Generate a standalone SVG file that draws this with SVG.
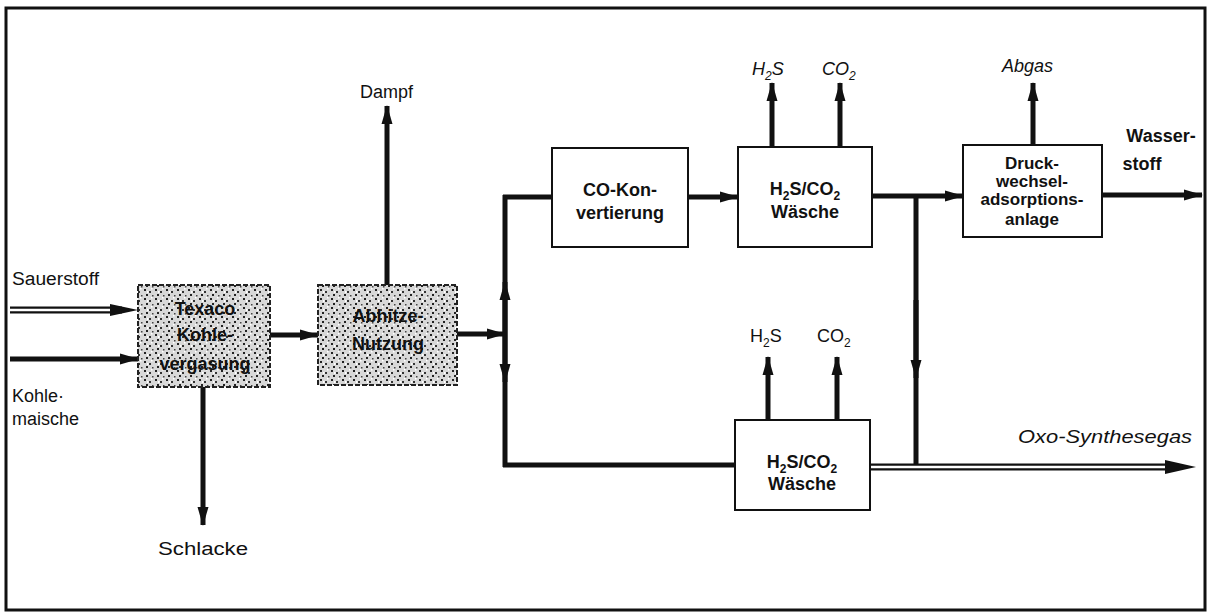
<svg xmlns="http://www.w3.org/2000/svg" width="1231" height="614" viewBox="0 0 1231 614">
<style>
.t{font-family:"Liberation Sans",Arial,sans-serif;font-size:18px;fill:#111}
.b{font-family:"Liberation Sans",Arial,sans-serif;font-size:18px;font-weight:bold;fill:#111;text-anchor:middle}
.s{font-size:17px}
.i{font-style:italic}
.box{fill:#fff;stroke:#111;stroke-width:2}
.gbox{fill:url(#stip);stroke:#222;stroke-width:2;stroke-dasharray:5 2}
.ln{fill:none;stroke:#111;stroke-width:5}
.dl{fill:none;stroke:#111;stroke-width:7}
.dw{fill:none;stroke:#fff;stroke-width:2.5}
</style>
<defs>
<pattern id="stip" width="11" height="9" patternUnits="userSpaceOnUse">
<rect width="11" height="9" fill="#d8d8d8"/>
<rect x="1" y="1" width="2" height="2" fill="#222"/>
<rect x="6" y="3" width="2" height="2" fill="#333"/>
<rect x="3" y="6" width="2" height="2" fill="#222"/>
<rect x="9" y="7" width="1.5" height="1.5" fill="#444"/>
<rect x="8" y="0" width="1.5" height="1.5" fill="#fff"/>
<rect x="4" y="3" width="1.5" height="2" fill="#fff"/>
</pattern>
<marker id="ah" markerUnits="userSpaceOnUse" markerWidth="20" markerHeight="12" refX="18" refY="6" orient="auto">
<path d="M0,0.5 L19,6 L0,11.5 z" fill="#111"/>
</marker>
</defs>

<rect x="6" y="8" width="1199" height="602" fill="#fff" stroke="#111" stroke-width="3"/>

<g id="connectors">
<line class="dl" x1="10" y1="310" x2="122" y2="310"/>
<line class="dw" x1="10" y1="310" x2="112" y2="310"/>
<path d="M110,304 L138,310 L110,316 z" fill="#111"/>
<line class="ln" x1="10" y1="359" x2="138" y2="359" marker-end="url(#ah)"/>
<line class="ln" x1="203" y1="387" x2="203" y2="525" marker-end="url(#ah)"/>
<line class="ln" x1="270" y1="335" x2="318" y2="335" marker-end="url(#ah)"/>
<line class="ln" x1="387" y1="285" x2="387" y2="106" marker-end="url(#ah)"/>
<line class="ln" x1="457" y1="334" x2="505" y2="334" marker-end="url(#ah)"/>
<path class="ln" d="M505,195 L505,467"/>
<line class="ln" x1="505" y1="334" x2="505" y2="282" marker-end="url(#ah)"/>
<line class="ln" x1="505" y1="334" x2="505" y2="382" marker-end="url(#ah)"/>
<path class="ln" d="M503,197 L552,197"/>
<path class="ln" d="M503,465 L735,465"/>
<line class="ln" x1="688" y1="197" x2="738" y2="197" marker-end="url(#ah)"/>
<line class="ln" x1="772" y1="147" x2="772" y2="83" marker-end="url(#ah)"/>
<line class="ln" x1="840" y1="147" x2="840" y2="83" marker-end="url(#ah)"/>
<line class="ln" x1="872" y1="196" x2="963" y2="196" marker-end="url(#ah)"/>
<path class="ln" d="M916,196 L916,468"/>
<line class="ln" x1="916" y1="300" x2="916" y2="378" marker-end="url(#ah)"/>
<line class="ln" x1="1033" y1="145" x2="1033" y2="83" marker-end="url(#ah)"/>
<line class="ln" x1="1102" y1="195" x2="1202" y2="195" marker-end="url(#ah)"/>
<line class="ln" x1="768" y1="420" x2="768" y2="357" marker-end="url(#ah)"/>
<line class="ln" x1="837" y1="420" x2="837" y2="357" marker-end="url(#ah)"/>
<line class="dl" x1="870" y1="467" x2="1175" y2="467"/>
<line class="dw" x1="870" y1="467" x2="1168" y2="467"/>
<path d="M1165,460 L1196,467 L1165,474 z" fill="#111"/>
</g>

<g id="texaco">
<rect class="gbox" x="138" y="285" width="132" height="102"/>
<text class="b" x="205" y="315">Texaco</text>
<text class="b" x="205" y="341">Kohle-</text>
<text class="b" x="205" y="370">vergasung</text>
</g>

<g id="abhitze">
<rect class="gbox" x="318" y="285" width="139" height="100"/>
<text class="b" x="388" y="322">Abhitze-</text>
<text class="b" x="388" y="350">Nutzung</text>
</g>

<g id="co-konvertierung">
<rect class="box" x="552" y="148" width="136" height="99"/>
<text class="b" x="620" y="196">CO-Kon-</text>
<text class="b" x="620" y="219">vertierung</text>
</g>

<g id="waesche-oben">
<rect class="box" x="738" y="147" width="134" height="100"/>
<text class="b" x="805" y="195">H<tspan font-size="12" dy="5">2</tspan><tspan dy="-5">S/CO</tspan><tspan font-size="12" dy="5">2</tspan></text>
<text class="b" x="805" y="218">Wäsche</text>
</g>

<g id="druckwechsel">
<rect class="box" x="963" y="145" width="139" height="92"/>
<text class="b s" x="1032" y="169">Druck-</text>
<text class="b s" x="1032" y="187">wechsel-</text>
<text class="b s" x="1032" y="205">adsorptions-</text>
<text class="b s" x="1032" y="225">anlage</text>
</g>

<g id="waesche-unten">
<rect class="box" x="735" y="420" width="135" height="90"/>
<text class="b" x="802" y="468">H<tspan font-size="12" dy="5">2</tspan><tspan dy="-5">S/CO</tspan><tspan font-size="12" dy="5">2</tspan></text>
<text class="b" x="802" y="490">Wäsche</text>
</g>

<g id="labels">
<text class="t" x="12" y="285" textLength="87" lengthAdjust="spacingAndGlyphs">Sauerstoff</text>
<text class="t" x="12" y="402">Kohle·</text>
<text class="t" x="12" y="425">maische</text>
<text class="t" x="158" y="555" textLength="90" lengthAdjust="spacingAndGlyphs">Schlacke</text>
<text class="t" x="360" y="98">Dampf</text>
<text class="t i" x="752" y="75">H<tspan font-size="12" dy="5">2</tspan><tspan dy="-5">S</tspan></text>
<text class="t i" x="822" y="75">CO<tspan font-size="12" dy="5">2</tspan></text>
<text class="t i" x="1002" y="72">Abgas</text>
<text class="b" x="1161" y="142">Wasser-</text>
<text class="b" x="1142" y="170">stoff</text>
<text class="t" x="750" y="342">H<tspan font-size="12" dy="5">2</tspan><tspan dy="-5">S</tspan></text>
<text class="t" x="817" y="342">CO<tspan font-size="12" dy="5">2</tspan></text>
<text class="t i" x="1018" y="443" textLength="174" lengthAdjust="spacingAndGlyphs">Oxo-Synthesegas</text>
</g>
</svg>
